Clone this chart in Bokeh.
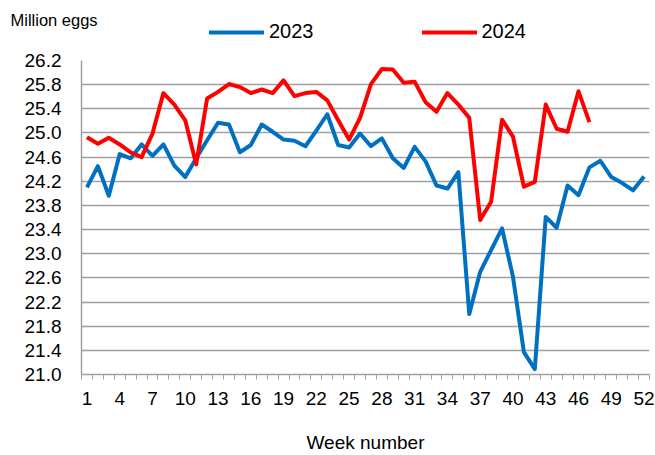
from bokeh.plotting import figure
from bokeh.layouts import column
from bokeh.models import Range1d, FixedTicker, Legend, LegendItem, Label, PrintfTickFormatter
from bokeh.embed import file_html
from bokeh.resources import INLINE

weeks_2023 = list(range(1, 53))
eggs_2023 = [24.10, 24.45, 23.96, 24.65, 24.58, 24.81, 24.62, 24.81, 24.46, 24.27,
             24.58, 24.88, 25.17, 25.14, 24.68, 24.80, 25.14, 25.02, 24.89, 24.87,
             24.78, 25.04, 25.31, 24.80, 24.76, 24.99, 24.78, 24.91, 24.58, 24.42,
             24.77, 24.53, 24.13, 24.08, 24.35, 22.00, 22.70, 23.06, 23.42, 22.62,
             21.37, 21.09, 23.61, 23.43, 24.13, 23.97, 24.43, 24.54, 24.27, 24.17,
             24.05, 24.28]
weeks_2024 = list(range(1, 48))
eggs_2024 = [24.93, 24.82, 24.92, 24.81, 24.68, 24.60, 24.99, 25.66, 25.47, 25.21,
             24.48, 25.57, 25.68, 25.81, 25.76, 25.66, 25.72, 25.66, 25.87, 25.61,
             25.66, 25.68, 25.54, 25.21, 24.89, 25.25, 25.81, 26.06, 26.05, 25.83,
             25.85, 25.51, 25.35, 25.66, 25.47, 25.25, 23.56, 23.86, 25.22, 24.94,
             24.11, 24.19, 25.47, 25.07, 25.02, 25.69, 25.18]
series_names = ["2023", "2024"]
series_colors = ["#0070C0", "#FF0000"]
x_ticks = list(range(1, 53, 3))
y_ticks = [21.0, 21.4, 21.8, 22.2, 22.6, 23.0, 23.4, 23.8, 24.2, 24.6, 25.0, 25.4, 25.8, 26.2]

FONT = "Liberation Sans"
GRID = "#a0a0a0"
LW = 4

# ---- header strip: unit label and legend (series keys are drawn off-range) ----
head = figure(width=655, height=50, output_backend="svg", toolbar_location=None,
              x_range=Range1d(0, 1), y_range=Range1d(0, 1),
              x_axis_type=None, y_axis_type=None,
              min_border_left=0, min_border_right=0, min_border_top=0, min_border_bottom=0)
head.frame_align = False
head.outline_line_color = None
head.xgrid.visible = False
head.ygrid.visible = False
head.add_layout(Label(x=10, y=31, x_units="screen", y_units="screen", text="Million eggs",
                      text_font=FONT, text_font_size="16.5px", text_color="black",
                      text_baseline="alphabetic"))
keys = [head.line(weeks_2023, eggs_2023, line_color=series_colors[0], line_width=LW, line_cap="round"),
        head.line(weeks_2024, eggs_2024, line_color=series_colors[1], line_width=LW, line_cap="round")]
legend = Legend(items=[LegendItem(label=n, renderers=[k]) for n, k in zip(series_names, keys)],
                orientation="horizontal", location=(209, 7),
                glyph_width=55, glyph_height=20, label_standoff=5, spacing=108,
                padding=0, margin=0, border_line_color=None, background_fill_alpha=0,
                label_text_font=FONT, label_text_font_size="20px", label_text_color="black")
head.add_layout(legend, "center")

# ---- main chart ----
p = figure(width=655, height=405, output_backend="svg", toolbar_location=None,
           x_range=Range1d(0.5, 52.5), y_range=Range1d(21.0, 26.2),
           min_border_left=81, min_border_right=6, min_border_top=10, min_border_bottom=80)
p.frame_align = False
p.outline_line_color = None
p.xgrid.grid_line_color = None
p.ygrid.grid_line_color = GRID
p.ygrid.grid_line_width = 1.5

p.line(weeks_2023, eggs_2023, line_color=series_colors[0], line_width=LW, line_join="round")
p.line(weeks_2024, eggs_2024, line_color=series_colors[1], line_width=LW, line_join="round")

xa = p.xaxis[0]
xa.ticker = FixedTicker(ticks=x_ticks, minor_ticks=[w + 0.5 for w in range(0, 53)])
xa.major_tick_line_color = None
xa.major_tick_out = 0
xa.major_tick_in = 0
xa.minor_tick_line_color = GRID
xa.minor_tick_out = 5
xa.minor_tick_in = 0
xa.axis_line_color = GRID
xa.axis_line_width = 1.5
xa.major_label_text_font = FONT
xa.major_label_text_font_size = "19px"
xa.major_label_text_color = "black"
xa.major_label_standoff = 12
xa.axis_label = "Week number"
xa.axis_label_text_font = FONT
xa.axis_label_text_font_size = "19px"
xa.axis_label_text_font_style = "normal"
xa.axis_label_text_color = "black"
xa.axis_label_standoff = 24

ya = p.yaxis[0]
ya.ticker = FixedTicker(ticks=y_ticks)
ya.formatter = PrintfTickFormatter(format="%.1f")
ya.major_tick_line_color = None
ya.major_tick_out = 0
ya.major_tick_in = 0
ya.minor_tick_line_color = None
ya.axis_line_color = GRID
ya.axis_line_width = 1.5
ya.major_label_text_font = FONT
ya.major_label_text_font_size = "19px"
ya.major_label_text_color = "black"
ya.major_label_standoff = 20

layout = column(head, p, spacing=0)
open("out.html", "w").write(file_html(layout, INLINE))
